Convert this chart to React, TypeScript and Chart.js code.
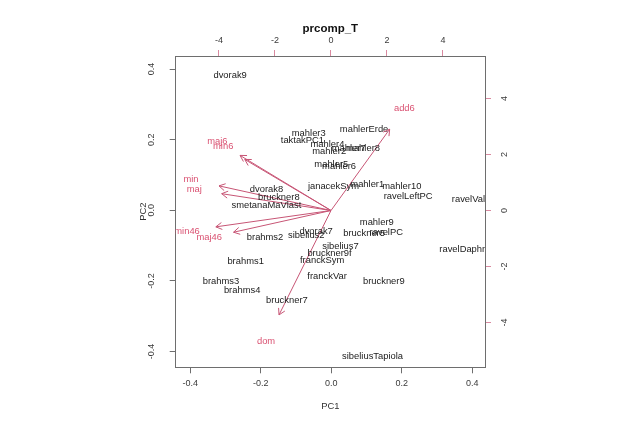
import React, { useEffect, useRef } from "react";
import { Chart, registerables } from "chart.js";

Chart.register(...registerables);

// ---- data (scores on PC1/PC2, bottom/left axes) ----
const scoreNames = [
  "dvorak9", "mahler3", "taktakPC1", "mahler4", "mahler2", "mahler7", "mahler8", "mahlerErde",
  "mahler5", "mahler6", "janacekSym", "mahler1", "mahler10", "ravelLeftPC", "ravelValse",
  "ravelDaphnis", "mahler9", "bruckner5", "ravelPC", "dvorak7", "sibelius2", "brahms2",
  "sibelius7", "bruckner9f", "franckSym", "brahms1", "franckVar", "bruckner9", "brahms3",
  "brahms4", "bruckner7", "sibeliusTapiola", "dvorak8", "bruckner8", "smetanaMaVlast",
];
const scorePC1 = [
  -0.287, -0.064, -0.082, -0.011, -0.006, 0.049, 0.090, 0.093,
  0.000, 0.022, 0.006, 0.102, 0.200, 0.218, 0.403,
  0.384, 0.129, 0.093, 0.156, -0.043, -0.071, -0.188,
  0.026, -0.005, -0.026, -0.243, -0.012, 0.149, -0.313,
  -0.253, -0.126, 0.117, -0.184, -0.149, -0.184,
];
const scorePC2 = [
  0.383, 0.218, 0.199, 0.187, 0.166, 0.176, 0.174, 0.229,
  0.130, 0.124, 0.067, 0.072, 0.069, 0.039, 0.032,
  -0.110, -0.035, -0.065, -0.062, -0.059, -0.072, -0.078,
  -0.101, -0.122, -0.141, -0.146, -0.188, -0.201, -0.201,
  -0.226, -0.254, -0.413, 0.058, 0.036, 0.014,
];

// ---- loadings (top/right axes) ----
const loadingNames = ["maj6", "min6", "min", "maj", "min46", "maj46", "dom", "add6"];
const loadingX = [-4.06, -3.85, -5.0, -4.88, -5.14, -4.35, -2.32, 2.62];
const loadingY = [2.46, 2.28, 1.1, 0.75, -0.73, -0.97, -4.66, 3.63];
const arrowFraction = 0.8;

// ---- axes ----
const bottomTicks = [-0.4, -0.2, 0, 0.2, 0.4];
const leftTicks = [-0.4, -0.2, 0, 0.2, 0.4];
const topTicks = [-4, -2, 0, 2, 4];
const rightTicks = [-4, -2, 0, 2, 4];
const xRange = [-0.4414, 0.436];
const yRange = [-0.4448, 0.4371];
const x2Range = [-5.546, 5.5];
const y2Range = [-5.6, 5.518];

const FONT = '"Liberation Sans", Arial, Helvetica, sans-serif';
const RED = "#DA5272";
const ARROW = "#C75575";
const BOX = "#6e6e6e";
const TICKTXT = "#3a3a3a";

const labelPlugin = {
  id: "biplotLabels",
  afterDatasetsDraw(chart: any) {
    const { ctx, chartArea } = chart;
    ctx.save();
    ctx.beginPath();
    ctx.rect(chartArea.left, chartArea.top, chartArea.right - chartArea.left, chartArea.bottom - chartArea.top);
    ctx.clip();
    ctx.textAlign = "center";
    ctx.textBaseline = "middle";
    ctx.font = `9.4px ${FONT}`;
    // scores
    const m0 = chart.getDatasetMeta(0);
    ctx.fillStyle = "#1a1a1a";
    m0.data.forEach((el: any, i: number) => {
      ctx.fillText(scoreNames[i], el.x, el.y);
    });
    // loading labels
    const m1 = chart.getDatasetMeta(1);
    ctx.fillStyle = RED;
    m1.data.forEach((el: any, i: number) => {
      ctx.fillText(loadingNames[i], el.x, el.y);
    });
    // arrow heads
    ctx.strokeStyle = ARROW;
    ctx.lineWidth = 1;
    for (let d = 2; d < chart.data.datasets.length; d++) {
      const m = chart.getDatasetMeta(d);
      const p0 = m.data[0];
      const p1 = m.data[1];
      const ang = Math.atan2(p1.y - p0.y, p1.x - p0.x);
      const len = 7;
      const a = Math.PI / 6;
      ctx.beginPath();
      ctx.moveTo(p1.x - len * Math.cos(ang - a), p1.y - len * Math.sin(ang - a));
      ctx.lineTo(p1.x, p1.y);
      ctx.lineTo(p1.x - len * Math.cos(ang + a), p1.y - len * Math.sin(ang + a));
      ctx.stroke();
    }
    ctx.restore();
  },
};

export default function App() {
  const ref = useRef<HTMLCanvasElement | null>(null);
  useEffect(() => {
    if (!ref.current) return;
    const tickFont = { family: FONT, size: 9 };
    const gridCfg = (color: string) => ({
      display: true,
      drawOnChartArea: false,
      drawTicks: true,
      tickLength: 6,
      color,
    });
    const border = { display: true, color: BOX, width: 1 };
    const datasets: any[] = [
      {
        data: scorePC1.map((x, i) => ({ x, y: scorePC2[i] })),
        xAxisID: "x",
        yAxisID: "y",
        pointRadius: 0,
        showLine: false,
      },
      {
        data: loadingX.map((x, i) => ({ x, y: loadingY[i] })),
        xAxisID: "x2",
        yAxisID: "y2",
        pointRadius: 0,
        showLine: false,
      },
      ...loadingX.map((x, i) => ({
        data: [
          { x: 0, y: 0 },
          { x: x * arrowFraction, y: loadingY[i] * arrowFraction },
        ],
        xAxisID: "x2",
        yAxisID: "y2",
        showLine: true,
        borderColor: ARROW,
        borderWidth: 1,
        pointRadius: 0,
        fill: false,
      })),
    ];
    const chart = new Chart(ref.current, {
      type: "scatter",
      data: { datasets },
      options: {
        animation: false,
        responsive: false,
        devicePixelRatio: window.devicePixelRatio || 1,
        layout: { padding: 0 },
        plugins: { legend: { display: false }, tooltip: { enabled: false }, title: { display: false } },
        events: [],
        scales: {
          x: {
            type: "linear",
            position: "bottom",
            min: xRange[0],
            max: xRange[1],
            afterBuildTicks: (s: any) => { s.ticks = bottomTicks.map((v) => ({ value: v })); },
            afterFit: (s: any) => { s.height = 56.7; },
            ticks: {
              font: tickFont, color: TICKTXT, padding: 5, maxRotation: 0, autoSkip: false,
              callback: (v: any) => Number(v).toFixed(1),
            },
            grid: gridCfg(BOX),
            border,
            title: { display: true, text: "PC1", font: { family: FONT, size: 9.4 }, color: "#333", padding: { top: 0, bottom: 11.5 } },
          },
          y: {
            type: "linear",
            position: "left",
            min: yRange[0],
            max: yRange[1],
            afterBuildTicks: (s: any) => { s.ticks = leftTicks.map((v) => ({ value: v })); },
            afterFit: (s: any) => { s.width = 175.7; },
            ticks: {
              font: tickFont, color: TICKTXT, padding: 10, minRotation: 90, maxRotation: 90,
              crossAlign: "center", autoSkip: false,
              callback: (v: any) => Number(v).toFixed(1),
            },
            grid: gridCfg(BOX),
            border,
            title: { display: true, text: "PC2", font: { family: FONT, size: 9.4 }, color: "#333", padding: { top: 137.5, bottom: 0 } },
          },
          x2: {
            type: "linear",
            position: "top",
            min: x2Range[0],
            max: x2Range[1],
            afterBuildTicks: (s: any) => { s.ticks = topTicks.map((v) => ({ value: v })); },
            afterFit: (s: any) => { s.height = 56; },
            ticks: {
              font: tickFont, color: TICKTXT, padding: 4.5, maxRotation: 0, autoSkip: false,
              callback: (v: any) => String(Math.round(Number(v))),
            },
            grid: gridCfg("#d98aa0"),
            border,
            title: { display: true, text: "prcomp_T", font: { family: FONT, size: 11.5, weight: "bold" }, color: "#111", padding: { top: 22.4, bottom: 0 } },
          },
          y2: {
            type: "linear",
            position: "right",
            min: y2Range[0],
            max: y2Range[1],
            afterBuildTicks: (s: any) => { s.ticks = rightTicks.map((v) => ({ value: v })); },
            afterFit: (s: any) => { s.width = 154; },
            ticks: {
              font: tickFont, color: TICKTXT, padding: 10, minRotation: 90, maxRotation: 90,
              crossAlign: "center", autoSkip: false,
              callback: (v: any) => String(Math.round(Number(v))),
            },
            grid: gridCfg("#d98aa0"),
            border,
          },
        },
      } as any,
      plugins: [labelPlugin],
    });
    return () => chart.destroy();
  }, []);
  return (
    <div style={{ position: "fixed", left: 0, top: 0, width: 639, height: 424, background: "#fff" }}>
      <canvas ref={ref} width={639} height={424} style={{ display: "block" }} />
    </div>
  );
}
